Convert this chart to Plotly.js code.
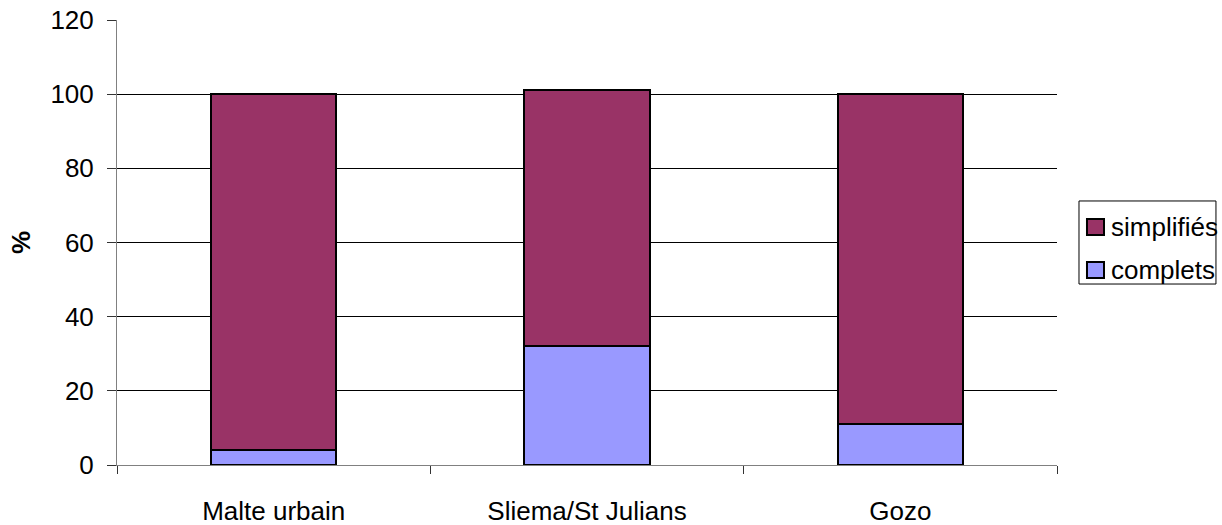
<!DOCTYPE html>
<html>
<head>
<meta charset="utf-8">
<script src="https://cdn.plot.ly/plotly-3.0.1.min.js"></script>
<style>html,body{margin:0;padding:0;background:#fff}#chart{width:1222px;height:525px}</style>
</head>
<body>
<div id="chart"></div>
<script>
const categories = ["Malte urbain", "Sliema/St Julians", "Gozo"];
const complets = [4, 32, 11];
const simplifies = [96, 69, 89];
const yTicks = [0, 20, 40, 60, 80, 100, 120];
const seriesNames = ["simplifiés", "complets"];
const seriesColors = ["#993366", "#9999FF"];

const FONT = "Liberation Sans, Arial, sans-serif";
const font = {family: FONT, size: 26, color: "#000"};

const data = [
  {type: "bar", name: seriesNames[1], x: categories, y: complets,
   marker: {color: seriesColors[1], line: {color: "#000", width: 2}}, width: 0.4},
  {type: "bar", name: seriesNames[0], x: categories, y: simplifies,
   marker: {color: seriesColors[0], line: {color: "#000", width: 2}}, width: 0.4}
];

// manual legend (paper coords relative to plot area)
const shapes = [
  {type: "rect", xref: "paper", yref: "paper", x0: 1.0234, x1: 1.1691, y0: 0.4067, y1: 0.5933,
   line: {color: "#000", width: 1}, fillcolor: "#fff"}
];
const annotations = [];
const itemY = [0.5348, 0.4382];
seriesNames.forEach((n, i) => {
  const yc = itemY[i];
  shapes.push({type: "rect", xref: "paper", yref: "paper",
    x0: 1.0319, x1: 1.0500, y0: yc - 0.0180, y1: yc + 0.0180,
    line: {color: "#000", width: 2}, fillcolor: seriesColors[i]});
  annotations.push({xref: "paper", yref: "paper", x: 1.0553, y: yc,
    xanchor: "left", yanchor: "middle", showarrow: false, text: n,
    font: {family: FONT, size: 26, color: "#000"}});
});

const layout = {
  width: 1222, height: 525,
  margin: {l: 117, r: 165, t: 20, b: 60},
  barmode: "stack",
  paper_bgcolor: "#fff", plot_bgcolor: "#fff",
  font: font,
  showlegend: false,
  shapes: shapes,
  annotations: annotations,
  xaxis: {type: "category", showline: true, linecolor: "#808080", linewidth: 1,
          ticks: "outside", tickson: "boundaries", ticklen: 8, tickcolor: "#333",
          showgrid: false, ticklabelstandoff: 23, tickfont: font, range: [-0.5, 2.5]},
  yaxis: {range: [0, 120], tickvals: yTicks, ticktext: yTicks.map(String),
          showline: true, linecolor: "#808080", linewidth: 1,
          ticks: "outside", ticklen: 9, tickcolor: "#333",
          showgrid: true, gridcolor: "#000", gridwidth: 1, zeroline: false,
          ticklabelstandoff: 8, tickfont: font,
          title: {text: "<b>%</b>", font: {family: FONT, size: 26}, standoff: 12}}
};

Plotly.newPlot("chart", data, layout, {staticPlot: true});
</script>
</body>
</html>
